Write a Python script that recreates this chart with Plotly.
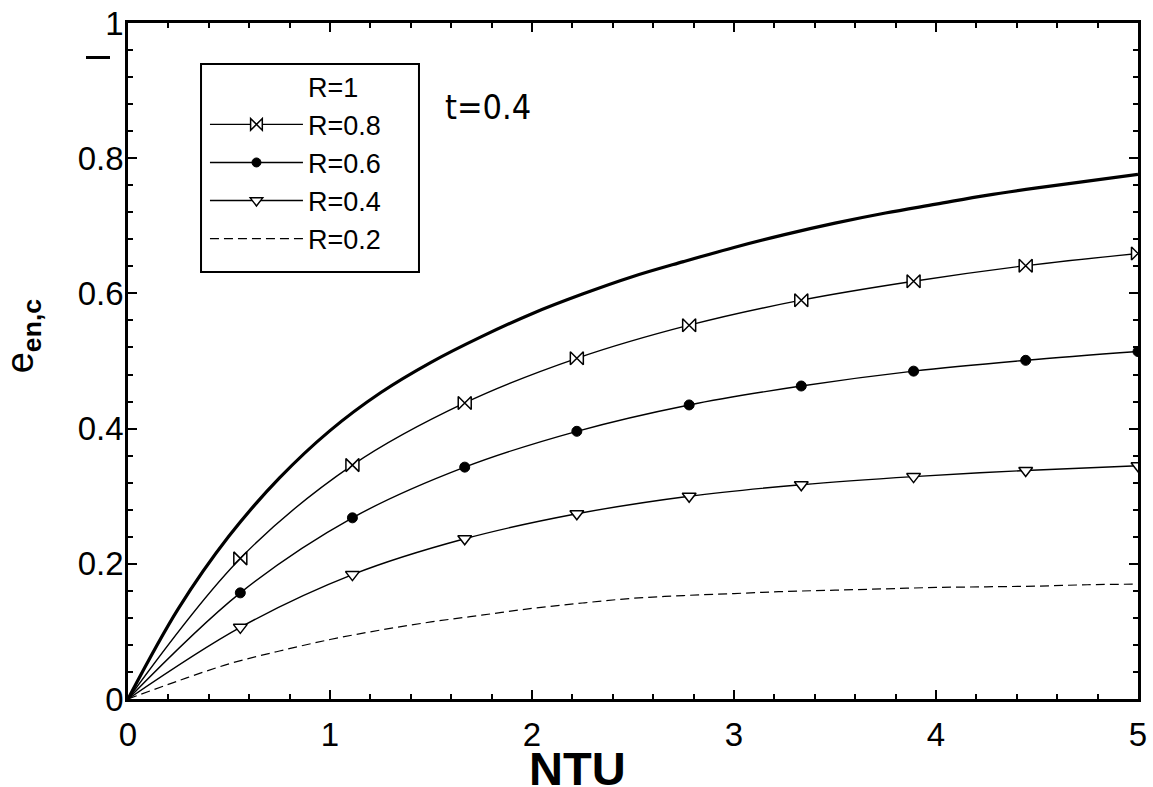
import plotly.graph_objects as go

# ---- data ----
NTU_SMOOTH = [0, 0.25, 0.5, 0.75, 1.0, 1.25, 1.5, 1.75, 2.0, 2.25, 2.5, 2.75, 3.0,
              3.25, 3.5, 3.75, 4.0, 4.25, 4.5, 4.75, 5.0]
E_R1 = [0, 0.134, 0.241, 0.327, 0.397, 0.453, 0.498, 0.536, 0.570, 0.599, 0.625, 0.647, 0.668,
        0.687, 0.704, 0.719, 0.732, 0.745, 0.756, 0.766, 0.776]
E_R02 = [0, 0.027, 0.052, 0.071, 0.088, 0.102, 0.114, 0.124, 0.134, 0.142, 0.149, 0.153, 0.156,
         0.159, 0.161, 0.163, 0.165, 0.166, 0.167, 0.169, 0.170]

NTU_MARK = [0, 0.556, 1.111, 1.667, 2.222, 2.778, 3.333, 3.889, 4.444, 5.0]
E_R08 = [0, 0.208, 0.346, 0.438, 0.504, 0.553, 0.590, 0.618, 0.641, 0.659]
E_R06 = [0, 0.157, 0.268, 0.343, 0.396, 0.435, 0.463, 0.485, 0.501, 0.514]
E_R04 = [0, 0.106, 0.184, 0.237, 0.274, 0.300, 0.317, 0.329, 0.338, 0.345]

LABELS = ["R=1", "R=0.8", "R=0.6", "R=0.4", "R=0.2"]
X_TICKS = [0, 1, 2, 3, 4, 5]
X_TICKTEXT = ["0", "1", "2", "3", "4", "5"]
Y_TICKS = [0, 0.2, 0.4, 0.6, 0.8, 1.0]
Y_TICKTEXT = ["0", "0.2", "0.4", "0.6", "0.8", "1"]

FONT = "Liberation Sans, Arial, sans-serif"
n_mark = len(NTU_MARK)

fig = go.Figure()

# R=1 thick line (legend entry shows text only)
fig.add_trace(go.Scatter(x=NTU_SMOOTH, y=E_R1, mode="lines", showlegend=False,
                         line=dict(color="black", width=3.2, shape="spline")))
fig.add_trace(go.Scatter(x=[None], y=[None], mode="lines", name=LABELS[0],
                         line=dict(color="rgba(0,0,0,0)", width=0)))

fig.add_trace(go.Scatter(x=NTU_MARK, y=E_R08, mode="lines+markers", name=LABELS[1],
                         line=dict(color="black", width=1.4, shape="spline"),
                         marker=dict(symbol="bowtie", size=[0] + [13] * (n_mark - 1),
                                     color="white", opacity=1,
                                     line=dict(color="black", width=1.5))))
fig.add_trace(go.Scatter(x=NTU_MARK, y=E_R06, mode="lines+markers", name=LABELS[2],
                         line=dict(color="black", width=1.4, shape="spline"),
                         marker=dict(symbol="circle", size=[0] + [10] * (n_mark - 1),
                                     color="black", opacity=1,
                                     line=dict(color="black", width=1))))
fig.add_trace(go.Scatter(x=NTU_MARK, y=E_R04, mode="lines+markers", name=LABELS[3],
                         line=dict(color="black", width=1.4, shape="spline"),
                         marker=dict(symbol="triangle-down", size=[0] + [12] * (n_mark - 1),
                                     color="white", opacity=1,
                                     line=dict(color="black", width=1.5))))
fig.add_trace(go.Scatter(x=NTU_SMOOTH, y=E_R02, mode="lines", name=LABELS[4],
                         line=dict(color="black", width=1.2, dash="9px,5px", shape="spline")))

axis_common = dict(showline=True, linecolor="black", linewidth=2.5, mirror="allticks",
                   ticks="inside", tickcolor="black", tickwidth=2, ticklen=9,
                   showgrid=False, zeroline=False, automargin=False,
                   tickfont=dict(family=FONT, size=33, color="black"))

fig.update_xaxes(range=[0, 5], tickvals=X_TICKS, ticktext=X_TICKTEXT,
                 ticklabelstandoff=5,
                 minor=dict(ticks="inside", dtick=0.2, ticklen=5, tickwidth=1.5,
                            tickcolor="black", showgrid=False),
                 **axis_common)
fig.update_yaxes(range=[0, 1], tickvals=Y_TICKS, ticktext=Y_TICKTEXT,
                 ticklabelstandoff=-5,
                 minor=dict(ticks="inside", dtick=0.04, ticklen=5, tickwidth=1.5,
                            tickcolor="black", showgrid=False),
                 **axis_common)

fig.add_annotation(text="<b>NTU</b>", xref="paper", yref="paper", x=0.4446, y=-0.103,
                   showarrow=False, font=dict(family=FONT, size=47, color="black"),
                   xanchor="center", yanchor="middle")
fig.add_annotation(text="e<sub><b>en,c</b></sub>", xref="paper", yref="paper",
                   x=-0.104, y=0.538, textangle=-90, showarrow=False,
                   font=dict(family=FONT, size=38, color="black"),
                   xanchor="center", yanchor="middle")
fig.add_annotation(text="t=0.4", xref="x", yref="y", x=1.56, y=0.876,
                   xanchor="left", yanchor="middle", showarrow=False,
                   font=dict(family="Liberation Sans Narrow, DejaVu Sans Condensed, Liberation Sans",
                             size=34, color="black"))
# short dash mark beside the y axis near the top
fig.add_shape(type="line", xref="paper", yref="y", x0=-0.0416, x1=-0.0178,
              y0=0.949, y1=0.949, line=dict(color="black", width=3))
# legend frame
fig.add_shape(type="rect", xref="paper", yref="paper", x0=0.0723, x1=0.2881,
              y0=0.6317, y1=0.9393, line=dict(color="black", width=2),
              fillcolor="rgba(0,0,0,0)", layer="above")

fig.update_layout(
    width=1153, height=787,
    margin=dict(l=128, r=15, t=23, b=88, autoexpand=False),
    paper_bgcolor="white", plot_bgcolor="white",
    legend=dict(x=0.0762, y=0.942, xanchor="left", yanchor="top",
                bgcolor="rgba(0,0,0,0)", borderwidth=0,
                font=dict(family=FONT, size=27, color="black"),
                itemwidth=93, tracegroupgap=0),
)

fig.write_html("out.html", config={"displayModeBar": False},
               post_script="document.body.style.margin='0';")
